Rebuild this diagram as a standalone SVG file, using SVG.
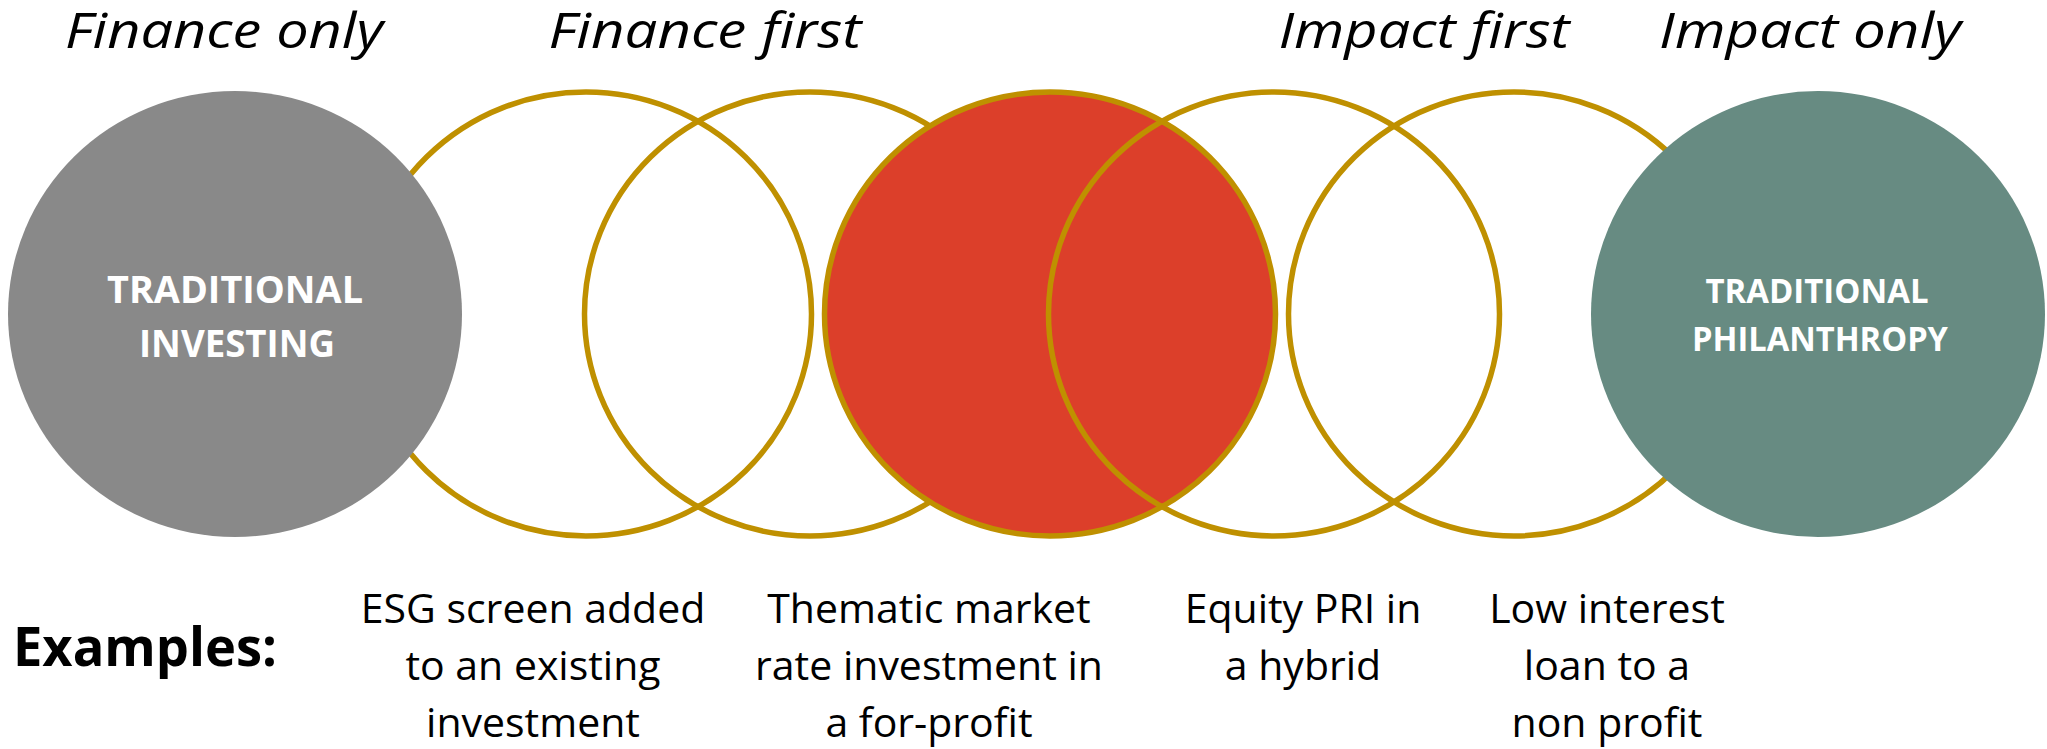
<svg xmlns="http://www.w3.org/2000/svg" width="2047" height="749" viewBox="0 0 2047 749">
  <style>
    .ring { fill: none; stroke: #BF9000; stroke-width: 5.5; }
    .title { font-family: "Open Sans", "Liberation Sans", sans-serif; font-style: italic; font-size: 50px; fill: #000; text-anchor: middle; }
    .label { font-family: "Open Sans", "Liberation Sans", sans-serif; font-weight: bold; fill: #fff; text-anchor: middle; }
    .example { font-family: "Open Sans", "Liberation Sans", sans-serif; font-size: 41px; fill: #000; text-anchor: middle; }
    .heading { font-family: "Open Sans", "Liberation Sans", sans-serif; font-weight: bold; font-size: 53px; fill: #000; }
  </style>
  <rect width="2047" height="749" fill="#fff"/>

  <!-- spectrum headings -->
  <g id="headings">
    <text class="title" x="224" y="48" textLength="318" lengthAdjust="spacingAndGlyphs">Finance only</text>
    <text class="title" x="705" y="48" textLength="313" lengthAdjust="spacingAndGlyphs">Finance first</text>
    <text class="title" x="1424" y="48" textLength="291" lengthAdjust="spacingAndGlyphs">Impact first</text>
    <text class="title" x="1810" y="48" textLength="302" lengthAdjust="spacingAndGlyphs">Impact only</text>
  </g>

  <!-- overlapping rings, left to right -->
  <g id="ring-1"><ellipse class="ring" cx="586" cy="314" rx="225.5" ry="222"/></g>
  <g id="ring-2"><ellipse class="ring" cx="810" cy="314" rx="225.5" ry="222"/></g>
  <g id="ring-center"><ellipse cx="1050" cy="314" rx="225.5" ry="222" fill="#DC3F2A" stroke="#BF9000" stroke-width="5.5"/></g>
  <g id="ring-3"><ellipse class="ring" cx="1274" cy="314" rx="225.5" ry="222"/></g>
  <g id="ring-4"><ellipse class="ring" cx="1514" cy="314" rx="225.5" ry="222"/></g>

  <g id="traditional-investing">
    <ellipse cx="235" cy="314" rx="227" ry="223" fill="#898989"/>
    <text class="label" x="235" y="303" font-size="38" textLength="256" lengthAdjust="spacingAndGlyphs">TRADITIONAL</text>
    <text class="label" x="237" y="357" font-size="38" textLength="196" lengthAdjust="spacingAndGlyphs">INVESTING</text>
  </g>

  <g id="traditional-philanthropy">
    <ellipse cx="1818" cy="314" rx="227" ry="223" fill="#678B82"/>
    <text class="label" x="1817" y="303" font-size="34" textLength="223" lengthAdjust="spacingAndGlyphs">TRADITIONAL</text>
    <text class="label" x="1820" y="351" font-size="34" textLength="256" lengthAdjust="spacingAndGlyphs">PHILANTHROPY</text>
  </g>

  <!-- examples row -->
  <g id="examples">
    <text class="heading" x="13" y="666" textLength="264" lengthAdjust="spacingAndGlyphs">Examples:</text>
    <text class="example" x="533" y="623">ESG screen added</text>
    <text class="example" x="533" y="680">to an existing</text>
    <text class="example" x="533" y="737">investment</text>

    <text class="example" x="929" y="623">Thematic market</text>
    <text class="example" x="929" y="680">rate investment in</text>
    <text class="example" x="929" y="737">a for-profit</text>

    <text class="example" x="1303" y="623">Equity PRI in</text>
    <text class="example" x="1303" y="680">a hybrid</text>

    <text class="example" x="1607" y="623">Low interest</text>
    <text class="example" x="1607" y="680">loan to a</text>
    <text class="example" x="1607" y="737">non profit</text>
  </g>
</svg>
